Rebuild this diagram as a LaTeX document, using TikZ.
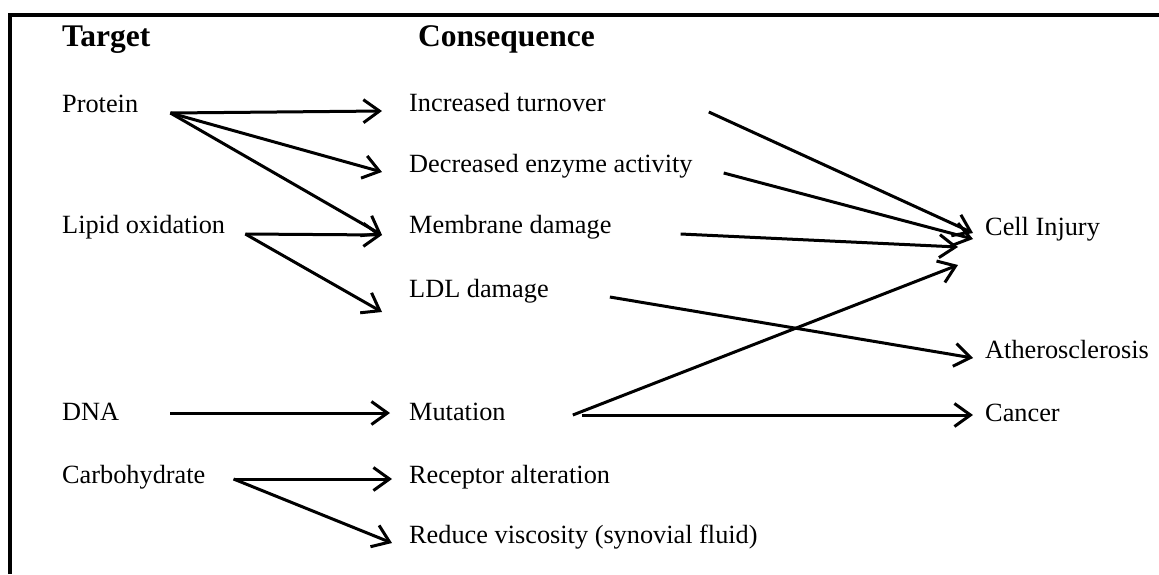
\documentclass[tikz,border=0pt]{standalone}
\usepackage{fontspec}
\setmainfont{Liberation Serif}
\usepackage{tikz}
\usetikzlibrary{arrows.meta}

\tikzset{
    lbl/.style={anchor=base west, inner sep=0pt, font=\fontsize{26.3}{30}\selectfont},
    head/.style={anchor=base west, inner sep=0pt, font=\bfseries\fontsize{31.5}{36}\selectfont},
    arr/.style={line width=3pt, -{Straight Barb[length=16pt, width=23pt]}},
}

\begin{document}
\begin{tikzpicture}[x=1pt, y=-1pt]
    \useasboundingbox (0,0) rectangle (1159,574);
    % open frame, top and left only
    \draw[line width=3.2pt] (10,574) -- (10,15) -- (1159,15);

    % headings
    \node[head] (tgt) at (62,46) {Target};
    \node[head] (csq) at (418,46) {Consequence};

    % targets
    \node[lbl] (prot) at (62,112) {Protein};
    \node[lbl] (lip)  at (62,233) {Lipid oxidation};
    \node[lbl] (dna)  at (62,420) {DNA};
    \node[lbl] (carb) at (62,483) {Carbohydrate};

    % consequences
    \node[lbl] (inc) at (409,111) {Increased turnover};
    \node[lbl] (dec) at (409,172) {Decreased enzyme activity};
    \node[lbl] (mem) at (409,233) {Membrane damage};
    \node[lbl] (ldl) at (409,297) {LDL damage};
    \node[lbl] (mut) at (409,420) {Mutation};
    \node[lbl] (rec) at (409,483) {Receptor alteration};
    \node[lbl] (red) at (409,543) {Reduce viscosity (synovial fluid)};

    % outcomes
    \node[lbl] (cell) at (985,235) {Cell Injury};
    \node[lbl] (ath)  at (985,358) {Atherosclerosis};
    \node[lbl] (canc) at (985,421) {Cancer};

    % target -> consequence
    \draw[arr] ([shift={(32,1)}]prot.base east) -- ([shift={(-27,0)}]inc.base west);
    \draw[arr] ([shift={(32,1)}]prot.base east) -- ([shift={(-27,0)}]dec.base west);
    \draw[arr] ([shift={(32,1)}]prot.base east) -- ([shift={(-27,2)}]mem.base west);
    \draw[arr] ([shift={(20,1)}]lip.base east) -- ([shift={(-27,2)}]mem.base west);
    \draw[arr] ([shift={(20,1)}]lip.base east) -- ([shift={(-27,15)}]ldl.base west);
    \draw[arr] ([shift={(51,-7)}]dna.base east) -- ([shift={(-19,-7)}]mut.base west);
    \draw[arr] ([shift={(28,-4)}]carb.base east) -- ([shift={(-17,-4)}]rec.base west);
    \draw[arr] ([shift={(28,-4)}]carb.base east) -- ([shift={(-17,0)}]red.base west);

    % consequence -> outcome
    \draw[arr] ([shift={(103,1)}]inc.base east) -- ([shift={(-12,-2)}]cell.base west);
    \draw[arr] ([shift={(31,1)}]dec.base east) -- ([shift={(-12,4)}]cell.base west);
    \draw[arr] ([shift={(69,1)}]mem.base east) -- ([shift={(-27,12)}]cell.base west);
    \draw[arr] ([shift={(67,-5)}]mut.base east) -- ([shift={(-27,30)}]cell.base west);
    \draw[arr] ([shift={(61,0)}]ldl.base east) -- ([shift={(-12,0)}]ath.base west);
    \draw[arr] ([shift={(76,-5)}]mut.base east) -- ([shift={(-12,-6)}]canc.base west);
\end{tikzpicture}
\end{document}
